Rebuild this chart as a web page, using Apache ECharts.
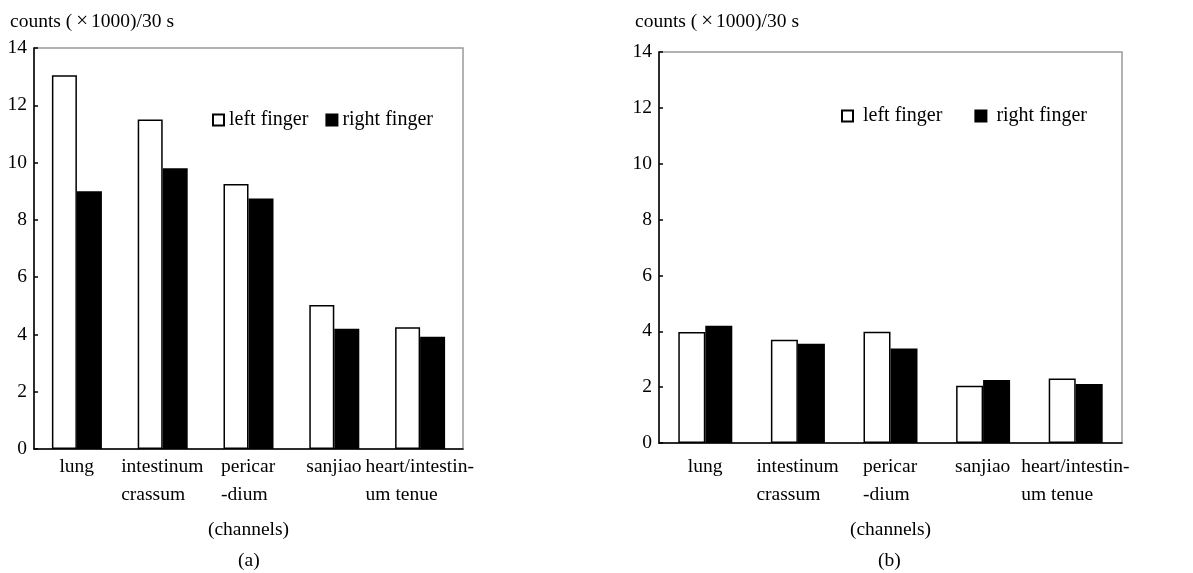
<!DOCTYPE html>
<html>
<head>
<meta charset="utf-8">
<script src="https://cdn.jsdelivr.net/npm/echarts@6/dist/echarts.min.js"></script>
<style>
html,body{margin:0;padding:0;background:#fff;}
#chart{width:1193px;height:573px;}
</style>
</head>
<body>
<div id="chart"></div>
<script>
// ---- data ----
var categories = ['lung', 'intestinum\ncrassum', 'pericar\n-dium', 'sanjiao', 'heart/intestin-\num tenue'];
var seriesNames = ['left finger', 'right finger'];
var leftA  = [13.05, 11.5, 9.25, 5.03, 4.25];
var rightA = [9.0, 9.8, 8.75, 4.2, 3.92];
var leftB  = [3.97, 3.7, 3.98, 2.05, 2.31];
var rightB = [4.2, 3.55, 3.38, 2.26, 2.11];
var yTicks = [0, 2, 4, 6, 8, 10, 12, 14];
var yNameParts = ['counts (', '\u00d7', '1000)/30 s'];
var xName = '(channels)';
var panelLabels = ['(a)', '(b)'];

var FONT = '"Liberation Serif", "Times New Roman", serif';
var FS = 19.5;

// rich styles so that multi-line labels are left aligned within a centered block
var ctx = document.createElement('canvas').getContext('2d');
ctx.font = FS + 'px ' + FONT;
var rich = {};
categories.forEach(function (c, i) {
  var w = Math.ceil(Math.max.apply(null, c.split('\n').map(function (l) { return ctx.measureText(l).width; })));
  rich['c' + i] = { width: w, align: 'left', fontFamily: FONT, fontSize: FS, color: '#000', lineHeight: 28 };
});
function labelFmt(value) {
  var i = categories.indexOf(value);
  return value.split('\n').map(function (l) { return '{c' + i + '|' + l + '}'; }).join('\n');
}

function xAxis(gi, margin, gap) {
  return {
    type: 'category', gridIndex: gi, data: categories,
    axisLine: { lineStyle: { color: '#000', width: 1.5 } },
    axisTick: { inside: true, length: 3, lineStyle: { color: '#000', width: 2 } },
    axisLabel: { margin: margin, interval: 0, formatter: labelFmt, rich: rich },
    name: xName, nameLocation: 'middle', nameGap: gap,
    nameTextStyle: { fontFamily: FONT, fontSize: FS, color: '#000' }
  };
}
function yAxis(gi) {
  return {
    type: 'value', gridIndex: gi, min: 0, max: 14, interval: 2,
    axisLine: { show: true, lineStyle: { color: '#000', width: 1.5 } },
    axisTick: { show: true, inside: true, length: 4, lineStyle: { color: '#000', width: 1.5 } },
    axisLabel: { margin: 7, fontFamily: FONT, fontSize: FS, color: '#000',
      formatter: function (v) { return yTicks.indexOf(v) >= 0 ? String(v) : ''; } },
    splitLine: { show: false }
  };
}
function bars(name, data, gi, fill, bw) {
  return {
    type: 'bar', name: name, xAxisIndex: gi, yAxisIndex: gi, data: data,
    barWidth: bw, barGap: '0%',
    itemStyle: { color: fill, borderColor: '#000', borderWidth: 1.5 },
    emphasis: { disabled: true }
  };
}
function legend(left, top, gap, textPad) {
  return {
    left: left, top: top, padding: 0, itemWidth: 11, itemHeight: 11, itemGap: gap, icon: 'rect',
    data: seriesNames, selectedMode: false,
    textStyle: { fontFamily: FONT, fontSize: 20, color: '#000', padding: textPad }
  };
}
function yTitle(left) {
  var t = { fontFamily: FONT, fontSize: 19.5, color: '#000' };
  return {
    text: '{t|' + yNameParts[0] + '}{x|' + yNameParts[1] + '}{t|' + yNameParts[2] + '}',
    left: left, top: 11, padding: 0,
    textStyle: { fontWeight: 'normal', rich: { t: t, x: { fontFamily: FONT, fontSize: 21, color: '#000', padding: [0, 3, 0, 4] } } }
  };
}
function panelTitle(text, left) {
  return { text: text, left: left, top: 551, padding: 0,
    textStyle: { fontFamily: FONT, fontSize: FS, fontWeight: 'normal', color: '#000' } };
}

var chart = echarts.init(document.getElementById('chart'), null, { renderer: 'canvas' });
chart.setOption({
  animation: false,
  backgroundColor: '#fff',
  title: [
    yTitle(10), yTitle(635),
    panelTitle(panelLabels[0], 238), panelTitle(panelLabels[1], 878)
  ],
  grid: [
    { left: 34, right: 730, top: 48, bottom: 124, show: true, borderColor: '#999', borderWidth: 1.5 },
    { left: 659, right: 71, top: 52, bottom: 130, show: true, borderColor: '#999', borderWidth: 1.5 }
  ],
  legend: [
    legend(212, 110, 17, [0, 0, 0, 0]),
    legend(841, 106, 32, [0, 0, 0, 5])
  ],
  xAxis: [xAxis(0, 4, 71), xAxis(1, 10, 77)],
  yAxis: [yAxis(0), yAxis(1)],
  series: [
    bars(seriesNames[0], leftA, 0, '#fff', 25),
    bars(seriesNames[1], rightA, 0, '#000', 25),
    bars(seriesNames[0], leftB, 1, '#fff', 27),
    bars(seriesNames[1], rightB, 1, '#000', 27)
  ]
});
</script>
</body>
</html>
